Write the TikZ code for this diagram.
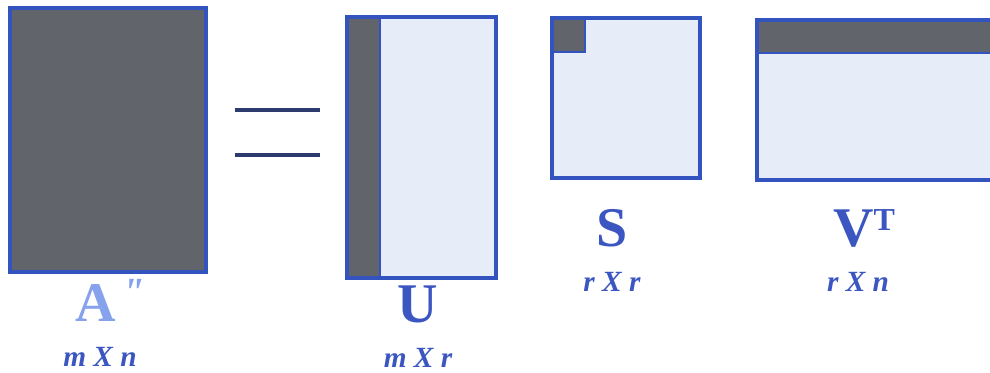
\documentclass[tikz,border=0pt]{standalone}
\usepackage{fontspec}
\setmainfont{Liberation Serif}
\definecolor{edge}{HTML}{3353BE}
\definecolor{darkfill}{HTML}{61656B}
\definecolor{lightfill}{HTML}{E6EDF8}
\definecolor{txt}{HTML}{3B56C0}
\definecolor{txtlight}{HTML}{86A2EC}
\definecolor{eqline}{HTML}{2E3B6E}
\begin{document}
\begin{tikzpicture}[x=0.75pt,y=-0.75pt,
  outline/.style={draw=edge,line width=2.8pt},
  darkpart/.style={fill=darkfill},
  bigname/.style={font=\fontsize{42}{44}\selectfont\bfseries,text=txt,inner sep=0pt},
  dims/.style={font=\fontsize{22}{24}\selectfont\bfseries\itshape,text=txt,inner sep=0pt}]
\useasboundingbox (0,0) rectangle (990,373);
\clip (0,0) rectangle (990,373);
% A
\fill[darkpart] (10,8) rectangle (206,272);
\draw[outline] (10,8) rectangle (206,272);
% equals
\draw[eqline,line width=2.4pt] (235,110) -- (320,110);
\draw[eqline,line width=2.4pt] (235,155) -- (320,155);
% U
\fill[lightfill] (347,17) rectangle (496,278);
\fill[darkpart] (347,17) rectangle (380,278);
\draw[edge,line width=2.2pt] (380,17) -- (380,278);
\draw[outline] (347,17) rectangle (496,278);
% S
\fill[lightfill] (552,18) rectangle (700,178);
\fill[darkpart] (552,18) rectangle (585,52);
\draw[edge,line width=2.2pt] (552,52) -- (585,52) -- (585,18);
\draw[outline] (552,18) rectangle (700,178);
% VT
\fill[lightfill] (757,20) rectangle (1000,180);
\fill[darkpart] (757,20) rectangle (1000,53);
\draw[edge,line width=2.2pt] (757,53) -- (1000,53);
\draw[outline] (757,20) rectangle (1000,180);
% labels
\node[bigname,text=txtlight,anchor=base] (la) at (110,322) {A\hspace{0.12em}\raisebox{0.3em}{\fontsize{30}{30}\selectfont\itshape\textquotedbl}};
\node[dims,anchor=base] (da) at (100,367) {m X n};
\node[bigname,anchor=base] (lu) at (418,323) {U};
\node[dims,anchor=base] (du) at (418,368) {m X r};
\node[bigname,anchor=base] (ls) at (612,247) {S};
\node[dims,anchor=base] (ds) at (612,292) {r X r};
\node[bigname,anchor=base] (lv) at (864,247) {V\raisebox{0.3em}{\fontsize{24}{24}\selectfont T}};
\node[dims,anchor=base] (dv) at (858,292) {r X n};
\end{tikzpicture}
\end{document}
